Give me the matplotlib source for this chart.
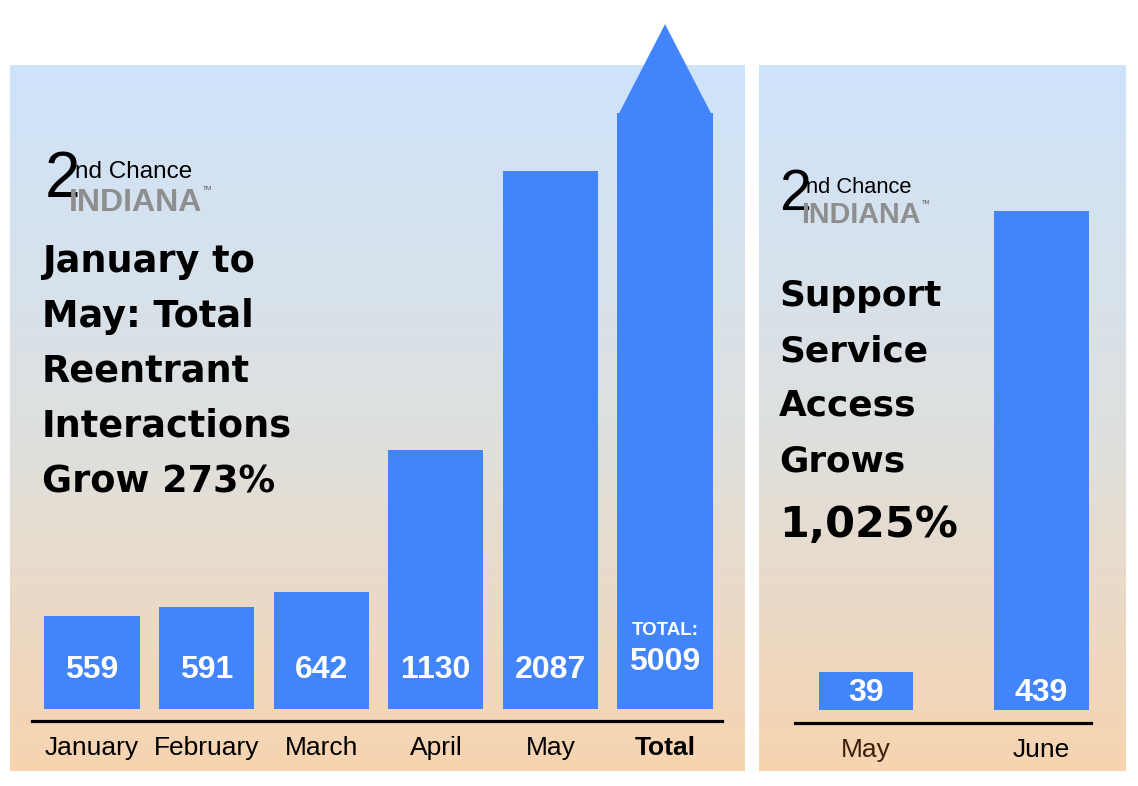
import numpy as np
import matplotlib
matplotlib.use("Agg")
import matplotlib.pyplot as plt
from matplotlib import font_manager
from matplotlib.colors import LinearSegmentedColormap

# data
months = ["January", "February", "March", "April", "May", "Total"]
interactions = [559, 591, 642, 1130, 2087, 5009]
support_months = ["May", "June"]
support_access = [39, 439]

title_left = ["January to", "May: Total", "Reentrant", "Interactions", "Grow 273%"]
title_right = ["Support", "Service", "Access", "Grows", "1,025%"]

plt.rcParams['font.family'] = ['Liberation Sans', 'DejaVu Sans']
installed = {f.name for f in font_manager.fontManager.ttflist}
narrow = 'Liberation Sans Narrow' if 'Liberation Sans Narrow' in installed else 'Liberation Sans'

W, H = 1138, 786
BLUE = "#4285fb"

fig = plt.figure(figsize=(W / 100, H / 100), dpi=100)


def fx(x):
    return x / W


def fy(y):
    return 1 - y / H


def box(x0, y0, x1, y1):
    return [fx(x0), fy(y1), fx(x1) - fx(x0), fy(y0) - fy(y1)]


# gradient panels
grad = LinearSegmentedColormap.from_list("bg", ["#cee3fb", "#dde0e0", "#f7d4b0"])
for x0, x1 in [(10, 745), (759, 1126)]:
    bg = fig.add_axes(box(x0, 65, x1, 771), zorder=0)
    bg.imshow(np.linspace(0, 1, 256)[:, None], aspect="auto", cmap=grad,
              extent=[0, 1, 0, 1])
    bg.axis("off")


def logo(x, y, s):
    # "2nd Chance INDIANA" wordmark, y = baseline of "nd Chance"
    fig.text(fx(x - 2 * s), fy(y + 19 * s), "2", fontsize=46 * s, family=narrow,
             va="baseline", color="black", zorder=3)
    fig.text(fx(x + 28 * s), fy(y), "nd Chance", fontsize=17.5 * s,
             va="baseline", color="black", zorder=4)
    fig.text(fx(x + 22 * s), fy(y + 33 * s), "INDIANA", fontsize=23 * s,
             family=narrow, fontweight="bold", va="baseline",
             color="#8e8e8e", zorder=3)
    fig.text(fx(x + 156 * s), fy(y + 12 * s), "TM", fontsize=4.5 * s,
             va="baseline", color="#555555", zorder=3)


logo(47, 178, 1.0)
logo(781, 193, 0.9)

for i, line in enumerate(title_left):
    fig.text(fx(42), fy(272 + 55 * i), line, family="DejaVu Sans",
             fontweight="bold", fontsize=26.4, va="baseline", zorder=3)
for i, line in enumerate(title_right):
    size = 31 if i == 4 else 25.8
    fig.text(fx(779), fy([306, 361, 416, 471, 537][i]), line,
             family="DejaVu Sans", fontweight="bold", fontsize=size,
             va="baseline", zorder=3)

# left bars
ax = fig.add_axes(box(32, 113, 722, 721), zorder=2)
ax.patch.set_alpha(0)
floor = 240
top = 2286
x = np.arange(len(months))
ax.bar(x, np.array(interactions) - floor, bottom=floor, width=0.83, color=BLUE)
ax.fill([5 - 0.4, 5, 5 + 0.4], [top, top + 305, top], color=BLUE,
        clip_on=False, lw=0)
ax.set_ylim(199, top)
ax.set_xlim(-0.524, 5.497)
for i, v in enumerate(interactions[:-1]):
    ax.text(i, 374, str(v), ha="center", va="center", color="white",
            fontsize=23, fontweight="bold")
ax.text(5, 400, str(interactions[-1]), ha="center", va="center",
        color="white", fontsize=23, fontweight="bold")
ax.text(5, 508, "TOTAL:", ha="center", va="center", color="white",
        fontsize=13.5, fontweight="bold")
ax.set_xticks(x)
ax.set_xticklabels(months, fontsize=19)
ax.get_xticklabels()[-1].set_fontweight("bold")

# right bars
ax2 = fig.add_axes(box(795, 200, 1091, 723), zorder=2)
ax2.patch.set_alpha(0)
floor2 = 6.1
x2 = np.arange(len(support_months))
ax2.bar(x2, np.array(support_access) - floor2, bottom=floor2, width=0.536,
        color=BLUE)
ax2.set_ylim(-5.2, 448.6)
ax2.set_xlim(-0.405, 1.282)
for i, v in enumerate(support_access):
    ax2.text(i, 21, str(v), ha="center", va="center", color="white",
             fontsize=23, fontweight="bold")
ax2.set_xticks(x2)
ax2.set_xticklabels(support_months, fontsize=19)
ax2.get_xticklabels()[0].set_color("#3b220c")

for a in (ax, ax2):
    for side in ("top", "left", "right"):
        a.spines[side].set_visible(False)
    a.spines["bottom"].set_linewidth(2.3)
    a.set_yticks([])
    a.tick_params(axis="x", length=0, pad=11)

fig.savefig("out.png", dpi=100)
